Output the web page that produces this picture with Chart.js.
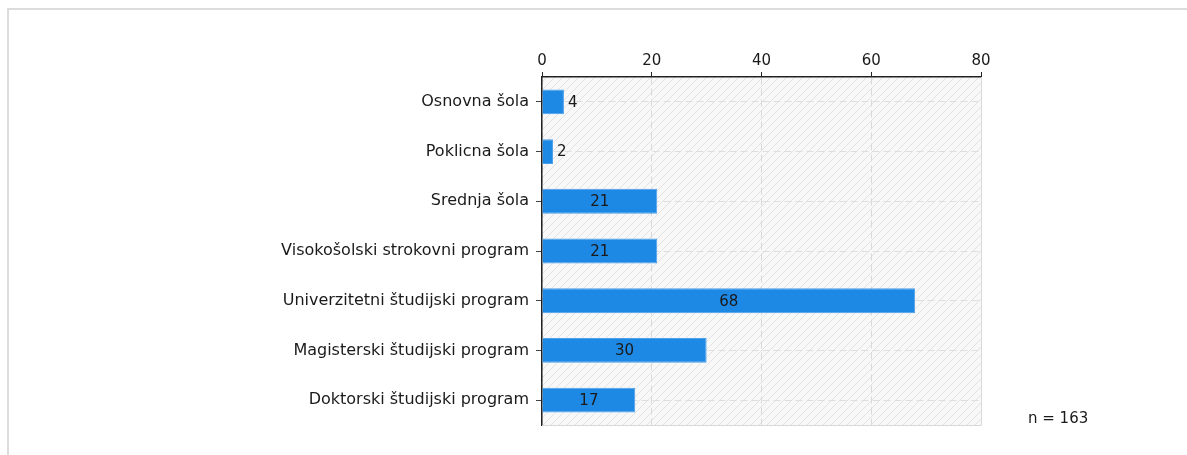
<!DOCTYPE html>
<html>
<head>
<meta charset="utf-8">
<script src="https://cdn.jsdelivr.net/npm/chart.js@4/dist/chart.umd.min.js"></script>
<style>
  html, body { margin: 0; padding: 0; background: #fff; }
  #wrap { position: relative; width: 1187px; height: 455px; overflow: hidden; }
  #frame { position: absolute; left: 7px; top: 8px; width: 1300px; height: 600px;
           border-left: 2px solid #dcdcdc; border-top: 2px solid #dcdcdc; }
  canvas { position: absolute; left: 0; top: 0; }
</style>
</head>
<body>
<div id="wrap">
  <div id="frame"></div>
  <canvas id="chart" width="1187" height="455"></canvas>
</div>
<script>
const categories = [
  'Osnovna šola',
  'Poklicna šola',
  'Srednja šola',
  'Visokošolski strokovni program',
  'Univerzitetni študijski program',
  'Magisterski študijski program',
  'Doktorski študijski program'
];
const counts = [4, 2, 21, 21, 68, 30, 17];
const xTicks = [0, 20, 40, 60, 80];
const totalLabel = 'n = 163';

const FONT = 'DejaVu Sans';

// hatched background of the plot area
function makeHatch() {
  const c = document.createElement('canvas');
  c.width = 8; c.height = 8;
  const g = c.getContext('2d');
  g.fillStyle = '#f8f8f8';
  g.fillRect(0, 0, 8, 8);
  g.strokeStyle = '#e2e2e2';
  g.lineWidth = 1;
  g.beginPath();
  g.moveTo(0, 8); g.lineTo(8, 0);
  g.moveTo(-1, 1); g.lineTo(1, -1);
  g.moveTo(7, 9); g.lineTo(9, 7);
  g.stroke();
  return c;
}

const plotBackground = {
  id: 'plotBackground',
  beforeDraw(chart) {
    const { ctx, chartArea: a } = chart;
    ctx.save();
    ctx.fillStyle = ctx.createPattern(makeHatch(), 'repeat');
    ctx.fillRect(a.left, a.top, a.right - a.left, a.bottom - a.top);
    ctx.restore();
  },
  afterDatasetsDraw(chart) {
    const { ctx, chartArea: a } = chart;
    ctx.save();
    ctx.strokeStyle = '#d8d8d8';
    ctx.lineWidth = 1;
    ctx.beginPath();
    ctx.moveTo(a.right + 0.5, a.top);
    ctx.lineTo(a.right + 0.5, a.bottom + 0.5);
    ctx.lineTo(a.left, a.bottom + 0.5);
    ctx.stroke();
    ctx.restore();
  }
};

// value labels: inside the bar when there is room, otherwise after it
const valueLabels = {
  id: 'valueLabels',
  afterDatasetsDraw(chart) {
    const { ctx } = chart;
    const meta = chart.getDatasetMeta(0);
    ctx.save();
    ctx.font = '15px "' + FONT + '"';
    ctx.fillStyle = '#1a1a1a';
    ctx.textBaseline = 'middle';
    meta.data.forEach((bar, i) => {
      const v = counts[i];
      const w = bar.x - bar.base;
      if (w > 40) {
        ctx.textAlign = 'center';
        ctx.fillText(String(v), bar.base + w / 2, bar.y + 1);
      } else {
        ctx.textAlign = 'left';
        ctx.fillText(String(v), bar.x + 4, bar.y + 1);
      }
    });
    // sample size note
    ctx.textAlign = 'left';
    ctx.fillText(totalLabel, 1028, 419);
    ctx.restore();
  }
};

new Chart(document.getElementById('chart'), {
  type: 'bar',
  data: {
    labels: categories,
    datasets: [{
      data: counts,
      backgroundColor: '#1e88e5',
      borderColor: '#4a9fea',
      borderWidth: 1,
      barPercentage: 0.5,
      categoryPercentage: 1.0
    }]
  },
  options: {
    indexAxis: 'y',
    responsive: false,
    animation: false,
    events: [],
    layout: { padding: { left: 0, right: 206, top: 0, bottom: 30 } },
    plugins: { legend: { display: false }, tooltip: { enabled: false } },
    scales: {
      x: {
        position: 'top',
        min: 0,
        max: 80,
        afterBuildTicks(scale) {
          scale.ticks = xTicks.map(v => ({ value: v }));
        },
        afterFit(scale) { scale.height = 77; },
        grid: {
          color: '#d9d9d9',
          tickColor: '#222',
          tickLength: 5,
          tickBorderDash: [],
          lineWidth: 1
        },
        border: { display: true, color: '#222', width: 1.5, dash: [7, 4] },
        ticks: {
          color: '#1a1a1a',
          padding: 2,
          font: { family: FONT, size: 15 }
        }
      },
      y: {
        afterFit(scale) { scale.width = 542; },
        grid: {
          offset: false,
          color: '#dedede',
          tickColor: '#444',
          tickLength: 6,
          tickBorderDash: []
        },
        border: { display: true, color: '#222', width: 1.5, dash: [7, 4] },
        ticks: {
          color: '#1a1a1a',
          padding: 7,
          font: { family: FONT, size: 16 }
        }
      }
    }
  },
  plugins: [plotBackground, valueLabels]
});
</script>
</body>
</html>
